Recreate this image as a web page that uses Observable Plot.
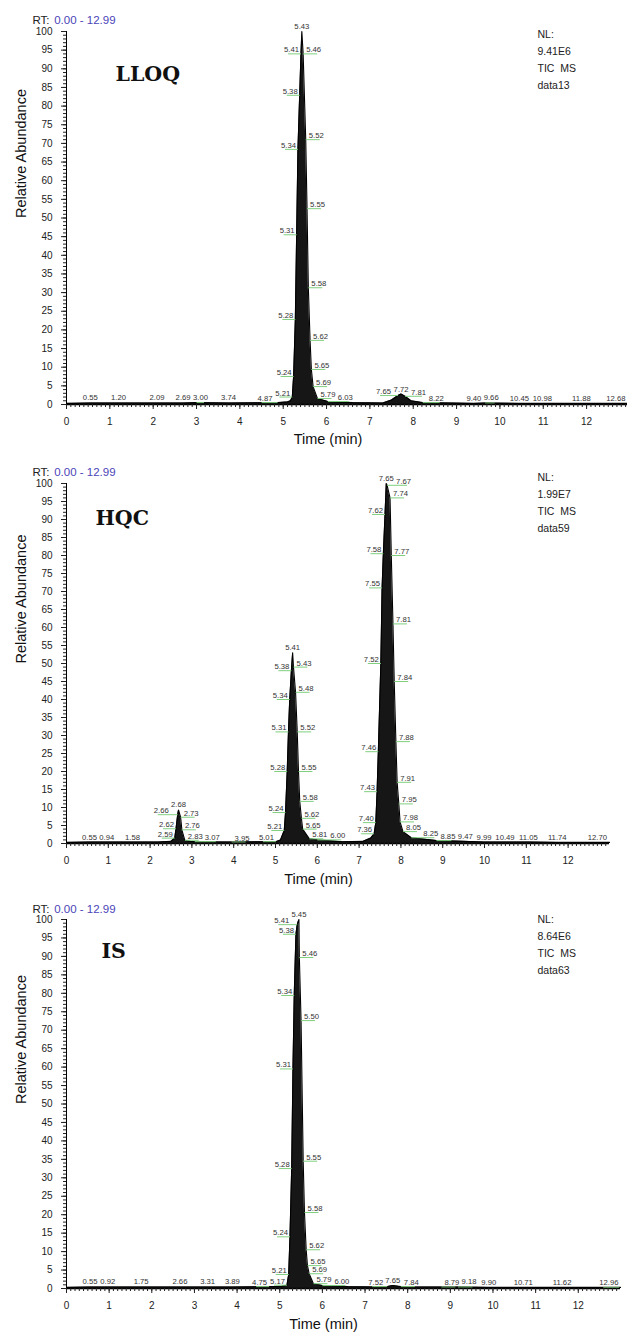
<!DOCTYPE html>
<html><head><meta charset="utf-8">
<script src="https://cdn.jsdelivr.net/npm/d3@7"></script>
<script src="https://cdn.jsdelivr.net/npm/@observablehq/plot@0.6"></script>
<style>
body{margin:0;background:#fff;}
#wrap{position:relative;width:627px;height:1339px;overflow:hidden;font-family:"Liberation Sans",Arial,sans-serif;}
.panel{position:absolute;left:0;}
</style></head><body><div id="wrap"></div>
<script>
// ---------- data ----------
const xTitle = "Time (min)";
const yTitle = "Relative Abundance";
const rtPrefix = "RT:";
const rtRange = "0.00 - 12.99";
const xTickValues = [0,1,2,3,4,5,6,7,8,9,10,11,12];
const yTickValues = [0,5,10,15,20,25,30,35,40,45,50,55,60,65,70,75,80,85,90,95,100];

// LLOQ
const lloqName = "LLOQ";
const lloqInfo = ["NL:", "9.41E6", "TIC  MS", "data13"];
const lloqTime  = [0, 0.55, 1.20, 2.09, 2.69, 3.00, 3.74, 4.87, 5.10, 5.17, 5.21, 5.24, 5.28, 5.31, 5.34, 5.38, 5.41, 5.43, 5.46, 5.52, 5.55, 5.58, 5.62, 5.65, 5.69, 5.79, 6.03, 6.60, 7.30, 7.50, 7.65, 7.72, 7.81, 7.95, 8.22, 9.40, 9.66, 10.45, 10.98, 11.88, 12.68, 12.99];
const lloqAbund = [0.3, 0.4, 0.4, 0.4, 0.4, 0.5, 0.4, 0.5, 0.7, 1.0, 2.0, 7.5, 22.8, 45.5, 68.4, 82.9, 94, 100, 94, 71, 52.5, 31.3, 17.2, 9.4, 4.8, 1.6, 0.8, 0.5, 0.4, 1.2, 2.4, 2.8, 2.2, 1.0, 0.5, 0.3, 0.4, 0.3, 0.3, 0.3, 0.3, 0.3];
const lloqLabelTimes = [0.55, 1.20, 2.09, 2.69, 3.00, 3.74, 4.87, 5.21, 5.24, 5.28, 5.31, 5.34, 5.38, 5.41, 5.43, 5.46, 5.52, 5.55, 5.58, 5.62, 5.65, 5.69, 5.79, 6.03, 7.65, 7.72, 7.81, 8.22, 9.40, 9.66, 10.45, 10.98, 11.88, 12.68];
const lloqApex = [5.43, 7.72];

// HQC
const hqcName = "HQC";
const hqcInfo = ["NL:", "1.99E7", "TIC  MS", "data59"];
const hqcTime  = [0, 0.55, 0.94, 1.58, 2.20, 2.50, 2.59, 2.62, 2.66, 2.68, 2.73, 2.76, 2.83, 2.95, 3.07, 3.95, 5.01, 5.12, 5.21, 5.24, 5.28, 5.31, 5.34, 5.38, 5.41, 5.43, 5.48, 5.52, 5.55, 5.58, 5.62, 5.65, 5.81, 6.00, 6.60, 7.10, 7.28, 7.36, 7.40, 7.43, 7.46, 7.52, 7.55, 7.58, 7.62, 7.65, 7.67, 7.74, 7.77, 7.81, 7.84, 7.88, 7.91, 7.95, 7.98, 8.05, 8.25, 8.85, 9.47, 9.99, 10.49, 11.05, 11.74, 12.70, 12.99];
const hqcAbund = [0.3, 0.4, 0.4, 0.4, 0.4, 0.6, 1.5, 4.1, 8.0, 9.3, 7.3, 3.8, 0.9, 0.6, 0.5, 0.4, 0.5, 1.0, 3.6, 8.6, 20, 31, 40, 48, 53, 49, 42, 31, 20, 11.7, 7.0, 4.0, 1.3, 1.0, 0.5, 0.6, 1.5, 2.7, 5.8, 14.4, 25.5, 50, 71, 80.5, 91.4, 100, 99.5, 96, 80, 61, 45, 28.3, 17, 11, 6.0, 3.3, 1.6, 0.8, 0.6, 0.4, 0.4, 0.4, 0.3, 0.3, 0.3];
const hqcLabelTimes = [0.55, 0.94, 1.58, 2.59, 2.62, 2.66, 2.68, 2.73, 2.76, 2.83, 3.07, 3.95, 5.01, 5.21, 5.24, 5.28, 5.31, 5.34, 5.38, 5.41, 5.43, 5.48, 5.52, 5.55, 5.58, 5.62, 5.65, 5.81, 6.00, 7.36, 7.40, 7.43, 7.46, 7.52, 7.55, 7.58, 7.62, 7.65, 7.67, 7.74, 7.77, 7.81, 7.84, 7.88, 7.91, 7.95, 7.98, 8.05, 8.25, 8.85, 9.47, 9.99, 10.49, 11.05, 11.74, 12.70];
const hqcApex = [2.68, 5.41, 7.65];

// IS
const isName = "IS";
const isInfo = ["NL:", "8.64E6", "TIC  MS", "data63"];
const isTime  = [0, 0.55, 0.92, 1.75, 2.66, 3.31, 3.89, 4.75, 5.05, 5.17, 5.21, 5.24, 5.28, 5.31, 5.34, 5.38, 5.41, 5.45, 5.46, 5.50, 5.55, 5.58, 5.62, 5.65, 5.69, 5.79, 6.00, 6.60, 7.30, 7.52, 7.65, 7.84, 8.10, 8.79, 9.18, 9.90, 10.71, 11.62, 12.96, 12.99];
const isAbund = [0.3, 0.4, 0.4, 0.4, 0.4, 0.4, 0.4, 0.5, 0.6, 0.9, 3.8, 14, 32.5, 59.5, 79.4, 96, 98.6, 100, 89.7, 72.6, 34.5, 20.6, 10.5, 6.2, 4.0, 1.3, 0.8, 0.5, 0.4, 0.5, 0.8, 0.5, 0.4, 0.4, 0.4, 0.3, 0.3, 0.3, 0.3, 0.3];
const isLabelTimes = [0.55, 0.92, 1.75, 2.66, 3.31, 3.89, 4.75, 5.17, 5.21, 5.24, 5.28, 5.31, 5.34, 5.38, 5.41, 5.45, 5.46, 5.50, 5.55, 5.58, 5.62, 5.65, 5.69, 5.79, 6.00, 7.52, 7.65, 7.84, 8.79, 9.18, 9.90, 10.71, 11.62, 12.96];
const isApex = [5.45, 7.65];

// ---------- build ----------
const green = "#7fcf7f";
const LABEL_FS = 7.7;
const MB = 48, ML = 66, WIDTH = 627, XMAX = 12.99;

const panels = [
  {name: lloqName, info: lloqInfo, time: lloqTime, abund: lloqAbund, labels: lloqLabelTimes, apex: lloqApex,
   top: 0, height: 452, mt: 31, mr: -2, rtdy: -16, ndx: 49, ndy: 35, nldy: -5, tdx: -20, tdy: 39},
  {name: hqcName, info: hqcInfo, time: hqcTime, abund: hqcAbund, labels: hqcLabelTimes, apex: hqcApex,
   top: 452, height: 439, mt: 31, mr: 18, rtdy: -16, ndx: 29, ndy: 26.5, nldy: -14, tdx: -19.5, tdy: 40},
  {name: isName, info: isInfo, time: isTime, abund: isAbund, labels: isLabelTimes, apex: isApex,
   top: 891, height: 445, mt: 28, mr: 7, rtdy: -15, ndx: 35, ndy: 23.5, nldy: -8, tdx: -20, tdy: 40}
];

const xMinor = d3.range(0, 12.995, 0.1).map(d => Math.round(d * 10) / 10);
const yMinor = d3.range(0, 101, 1);

// place peak labels (left / right of the flank, centred on apex), avoiding collisions
function placeLabels(p) {
  const W = WIDTH - p.mr - ML, H = p.height - p.mt - MB;
  const frameRight = WIDTH - p.mr;
  const xp = t => ML + t * W / XMAX, xi = px => (px - ML) * XMAX / W;
  const yp = v => p.mt + (100 - v) * H / 100, yi = py => 100 - (py - p.mt) * 100 / H;
  const fs = LABEL_FS;
  const items = p.labels.map(t => {
    const v = p.abund[p.time.indexOf(t)];
    const apex = p.apex.reduce((a, b) => Math.abs(b - t) < Math.abs(a - t) ? b : a);
    const d = t - apex;
    const isApex = Math.abs(d) < 1e-9;
    let side = "C";
    if (!isApex && d < 0 && -d < 1.0) side = "L";
    if (!isApex && d > 0 && d < 1.5) side = "R";
    const label = t.toFixed(2);
    const w = ((label.length - 1) * 0.556 + 0.278) * fs;
    const px = xp(t), py = yp(v);
    let cx = side === "L" ? px - 2 - w / 2 : side === "R" ? px + 3 + w / 2 : px;
    cx = Math.min(cx, Math.min(frameRight, WIDTH) - w / 2 - 2);
    const ly = py - (side === "C" ? 5 : 4);
    return {t, v, label, side, isApex, w, px, cx, ly};
  });
  const placed = [];
  const hit = a => placed.some(b => Math.abs(a.ly - b.ly) < 7 &&
    a.cx - a.w / 2 < b.cx + b.w / 2 + 2 && b.cx - b.w / 2 < a.cx + a.w / 2 + 2);
  items.filter(d => d.isApex).forEach(d => placed.push(d));
  items.filter(d => d.side === "L").sort((a, b) => b.t - a.t)
    .forEach(d => { let n = 0; while (hit(d) && n++ < 300) d.cx -= 1; placed.push(d); });
  items.filter(d => !d.isApex && d.side !== "L").sort((a, b) => a.t - b.t)
    .forEach(d => { let n = 0; while (hit(d) && n++ < 300) d.cx += 1; placed.push(d); });
  for (const d of items) {
    d.lx = xi(d.cx);
    d.lyv = yi(d.ly);
    if (d.side === "L") d.gx = xi(d.cx - d.w / 2 + 4);
    else if (d.side === "R") d.gx = xi(Math.max(d.cx + d.w / 2 - 4, d.px + 6));
    else if (Math.abs(d.cx - d.px) > 3) d.gx = xi(d.cx + Math.sign(d.cx - d.px) * (d.w / 2 - 4));
    else d.gx = null;
  }
  return items;
}

function chart(p) {
  const curve = p.time.map((t, i) => ({t, v: p.abund[i]}));
  const labels = placeLabels(p);
  return Plot.plot({
    width: WIDTH, height: p.height,
    marginTop: p.mt, marginBottom: MB, marginLeft: ML, marginRight: p.mr,
    x: {domain: [0, XMAX]},
    y: {domain: [0, 100]},
    style: {fontFamily: "'Liberation Sans', Arial, sans-serif", color: "#222", background: "transparent", overflow: "visible"},
    marks: [
      Plot.areaY(curve, {x: "t", y: "v", fill: "#161616"}),
      Plot.line(curve, {x: "t", y: "v", stroke: "#000", strokeWidth: 1.1}),
      Plot.link(labels.filter(d => d.gx != null), {x1: "t", x2: "gx", y1: "v", y2: "v", stroke: green, strokeWidth: 1}),
      Plot.text(labels, {x: "lx", y: "lyv", text: "label", fontSize: LABEL_FS, fill: "#333", lineAnchor: "middle", textAnchor: "middle"}),
      Plot.ruleX([0], {stroke: "#000", strokeWidth: 1}),
      Plot.ruleY([0], {stroke: "#000", strokeWidth: 1.3}),
      Plot.axisY({ticks: yTickValues, tickSize: 5, tickPadding: 9, fontSize: 10, label: null}),
      Plot.axisY({ticks: yMinor, tickSize: 3, tickFormat: () => "", label: null}),
      Plot.axisX({ticks: xTickValues, tickSize: 5, tickPadding: 8, fontSize: 10, label: null}),
      Plot.axisX({ticks: xMinor, tickSize: 3, tickFormat: () => "", label: null}),
      Plot.text([yTitle], {frameAnchor: "left", rotate: -90, dx: -45.5, fontSize: 14.5, fill: "#111"}),
      Plot.text([xTitle], {frameAnchor: "bottom", dx: p.tdx, dy: p.tdy, fontSize: 14.5, fill: "#111"}),
      Plot.text([rtPrefix], {frameAnchor: "top-left", textAnchor: "start", dx: -34, dy: p.rtdy, fontSize: 11.5, fill: "#222"}),
      Plot.text([rtRange], {frameAnchor: "top-left", textAnchor: "start", dx: -12.3, dy: p.rtdy, fontSize: 11.5, fill: "#4b44b8"}),
      Plot.text([p.name], {frameAnchor: "top-left", textAnchor: "start", dx: p.ndx, dy: p.ndy, fontFamily: "'DejaVu Serif', serif", fontWeight: "bold", fontSize: 20.5, fill: "#111"}),
      Plot.text([p.info.join("\n")], {frameAnchor: "top-left", textAnchor: "start", lineAnchor: "top", lineHeight: 1.6, dx: 471, dy: p.nldy, fontSize: 10.5, fill: "#222"})
    ]
  });
}

const wrap = document.getElementById("wrap");
for (const p of panels) {
  const div = document.createElement("div");
  div.className = "panel";
  div.style.top = p.top + "px";
  div.appendChild(chart(p));
  wrap.appendChild(div);
}
</script></body></html>
